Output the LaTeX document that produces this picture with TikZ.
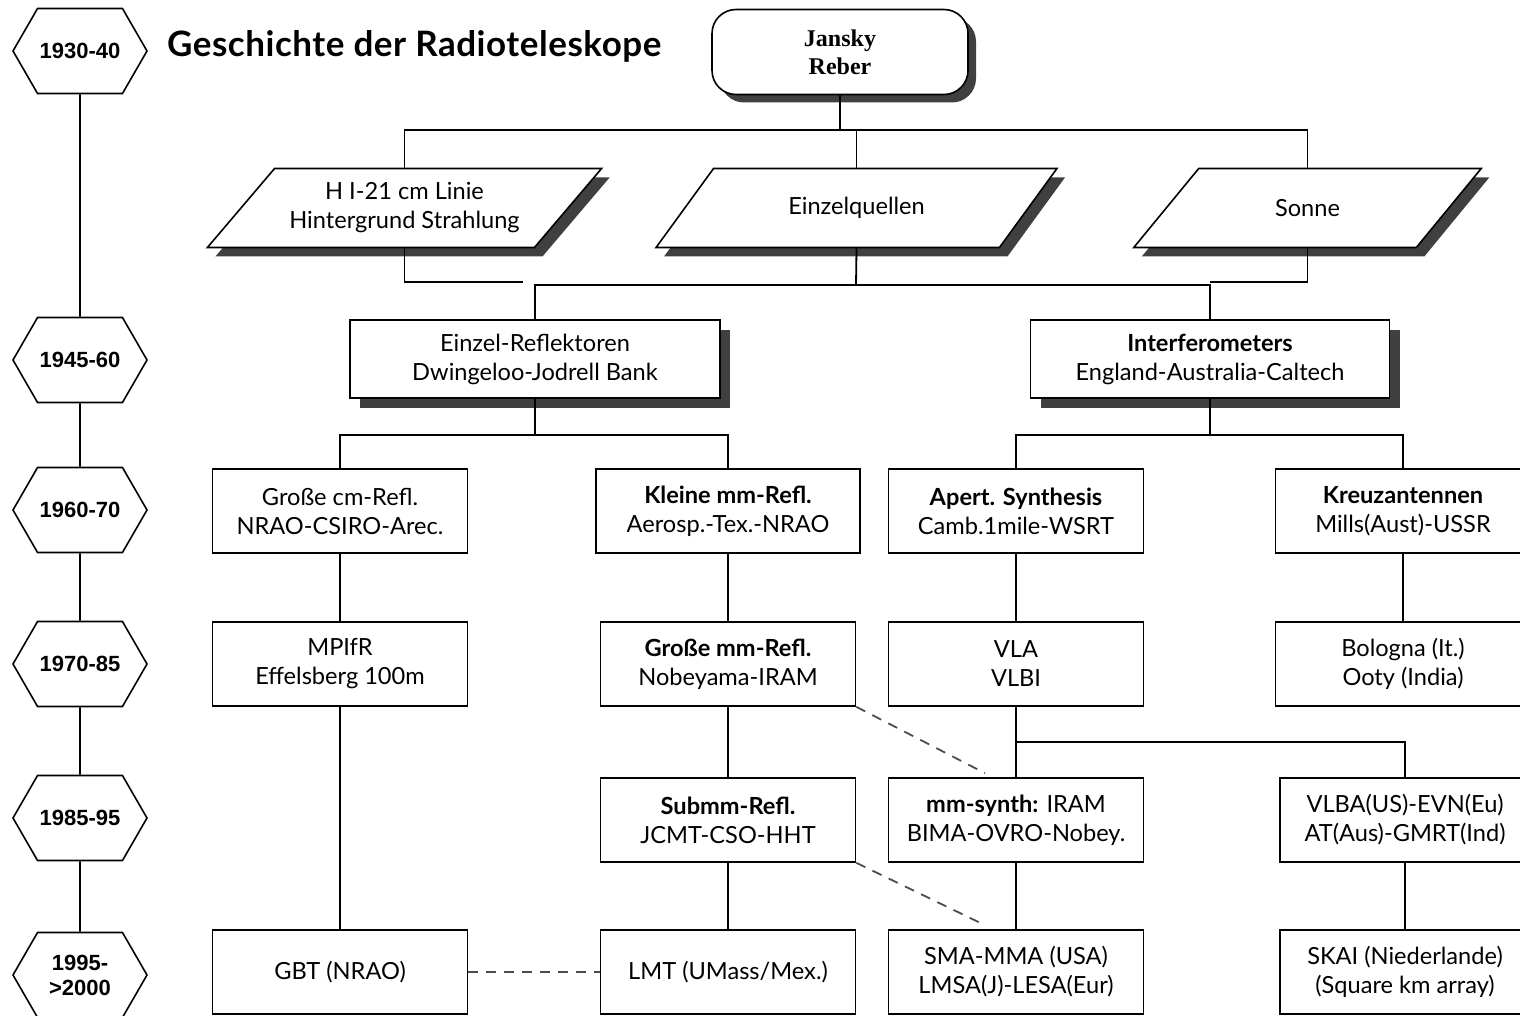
\documentclass[tikz,border=0pt]{standalone}
\usepackage{fontspec}
\setmainfont{Lato}
\newfontfamily\yearfont{Liberation Sans}
\newfontfamily\namefont{Liberation Serif}
\newfontfamily\titlefont[LetterSpace=1.5]{Lato}
\usetikzlibrary{shapes.geometric,shapes.symbols,shadows,calc}

\tikzset{
  box/.style={draw, line width=0.8pt, fill=white, minimum width=127.5pt,
    minimum height=42pt, align=center, inner sep=2pt},
  mainbox/.style={box, minimum height=39pt,
    drop shadow={shadow xshift=5pt, shadow yshift=-5pt, fill=black!75, opacity=1}},
  topic/.style={trapezium, trapezium left angle=42, trapezium right angle=138,
    trapezium stretches=true, draw, line width=0.8pt, fill=white,
    minimum height=39.5pt, align=center, inner sep=1pt,
    drop shadow={shadow xshift=4pt, shadow yshift=-4.5pt, fill=black!75, opacity=1}},
  era/.style={signal, signal to=east and west, signal pointer angle=120, draw,
    line width=0.8pt, fill=white, minimum width=67pt, minimum height=42.5pt,
    font=\yearfont\bfseries\fontsize{11}{12.5}\selectfont, align=center, inner sep=1pt},
  link/.style={line width=0.9pt},
  hint/.style={line width=0.9pt, dash pattern=on 5pt off 4pt, black!70},
}

\begin{document}
\begin{tikzpicture}[x=0.5pt, y=-0.5pt, font=\fontsize{11.8}{14.5}\selectfont]
  \useasboundingbox (0,0) rectangle (1520,1016);

  % time line
  \node[era] (t1) at (80,51)  {1930-40};
  \node[era] (t2) at (80,360) {1945-60};
  \node[era] (t3) at (80,510) {1960-70};
  \node[era] (t4) at (80,664) {1970-85};
  \node[era] (t5) at (80,818) {1985-95};
  \node[era] (t6) at (80,975) {1995-\\>2000};
  \draw[link] (t1) -- (t2) -- (t3) -- (t4) -- (t5) -- (t6);

  % title
  \node[anchor=west, font=\titlefont\bfseries\fontsize{17.5}{20}\selectfont] (title) at (160,46)
    {Geschichte der Radioteleskope};

  % origin
  \node[draw, line width=0.8pt, fill=white, rounded corners=12pt, minimum width=128pt,
    minimum height=42.5pt, align=center, font=\namefont\bfseries\fontsize{12}{14}\selectfont,
    drop shadow={shadow xshift=4pt, shadow yshift=-4pt, fill=black!75, opacity=1}]
    (jansky) at (840,52) {Jansky\\Reber};

  % topics
  \node[topic, minimum width=197.5pt] (hi) at (404.5,208) {H I-21 cm Linie\\Hintergrund Strahlung};
  \node[topic, minimum width=201.5pt] (eq) at (856.5,208) {Einzelquellen};
  \node[topic, minimum width=174.5pt, trapezium left angle=46, trapezium right angle=134]
    (sonne) at (1307.5,208) {Sonne};

  \coordinate (fan) at (840,130);
  \draw[link] (jansky.south) -- (fan);
  \draw[link] (hi.north) |- (fan) -| (sonne.north);
  \draw[link] (eq.north) -- (eq.north |- fan);

  % 1945-60
  \node[mainbox, minimum width=185pt] (einzel) at (535,359)
    {Einzel-Reflektoren\\Dwingeloo-Jodrell Bank};
  \node[mainbox, minimum width=179.5pt] (interf) at (1210,359)
    {\textbf{Interferometers}\\England-Australia-Caltech};

  \coordinate (hiend) at (523,282);
  \coordinate (join) at (856,285);
  \draw[link] (hi.south) |- (hiend);
  \draw[link] (eq.south) -- (join);
  \draw[link] (einzel.north) |- (join) -| (interf.north);
  \draw[link] (sonne.south) |- (interf.north |- 0,282);

  % 1960-70
  \node[box] (gcm) at (340,511) {Große cm-Refl.\\NRAO-CSIRO-Arec.};
  \node[box, minimum width=132pt] (kmm) at (728,511) {\textbf{Kleine mm-Refl.}\\Aerosp.-Tex.-NRAO};
  \node[box] (aps) at (1016,511) {\textbf{Apert. Synthesis}\\Camb.1mile-WSRT};
  \node[box] (kreuz) at (1403,511) {\textbf{Kreuzantennen}\\Mills(Aust)-USSR};

  \coordinate (efan) at (535,435);
  \coordinate (ifan) at (1210,435);
  \draw[link] (einzel.south) -- (efan);
  \draw[link] (gcm.north) |- (efan) -| (kmm.north);
  \draw[link] (interf.south) -- (ifan);
  \draw[link] (aps.north) |- (ifan) -| (kreuz.north);

  % 1970-85
  \node[box] (mpifr) at (340,664) {MPIfR\\Effelsberg 100m};
  \node[box] (gmm) at (728,664) {\textbf{Große mm-Refl.}\\Nobeyama-IRAM};
  \node[box] (vla) at (1016,664) {VLA\\VLBI};
  \node[box] (bologna) at (1403,664) {Bologna (It.)\\Ooty (India)};

  % 1985-95
  \node[box] (submm) at (728,820) {\textbf{Submm-Refl.}\\JCMT-CSO-HHT};
  \node[box] (mmsyn) at (1016,820) {\textbf{mm-synth:} IRAM\\BIMA-OVRO-Nobey.};
  \node[box, minimum width=125pt] (vlba) at (1405,820) {VLBA(US)-EVN(Eu)\\AT(Aus)-GMRT(Ind)};

  % 1995->2000
  \node[box] (gbt) at (340,972) {GBT (NRAO)};
  \node[box] (lmt) at (728,972) {LMT (UMass/Mex.)};
  \node[box] (sma) at (1016,972) {SMA-MMA (USA)\\LMSA(J)-LESA(Eur)};
  \node[box, minimum width=125pt] (skai) at (1405,972) {SKAI (Niederlande)\\(Square km array)};

  \draw[link] (gcm) -- (mpifr) -- (gbt);
  \draw[link] (kmm) -- (gmm) -- (submm) -- (lmt);
  \draw[link] (aps) -- (vla) -- (mmsyn) -- (sma);
  \draw[link] (kreuz) -- (bologna);
  \draw[link] (vlba) -- (skai);
  \coordinate (vfan) at (1016,742);
  \draw[link] (vfan) -| (vlba.north);

  % later links
  \draw[hint] (gmm.south east) -- ($(mmsyn.north)+(-31,-4)$);
  \draw[hint] (submm.south east) -- ($(sma.north)+(-31,-4)$);
  \draw[hint] (gbt) -- (lmt);
\end{tikzpicture}
\end{document}
